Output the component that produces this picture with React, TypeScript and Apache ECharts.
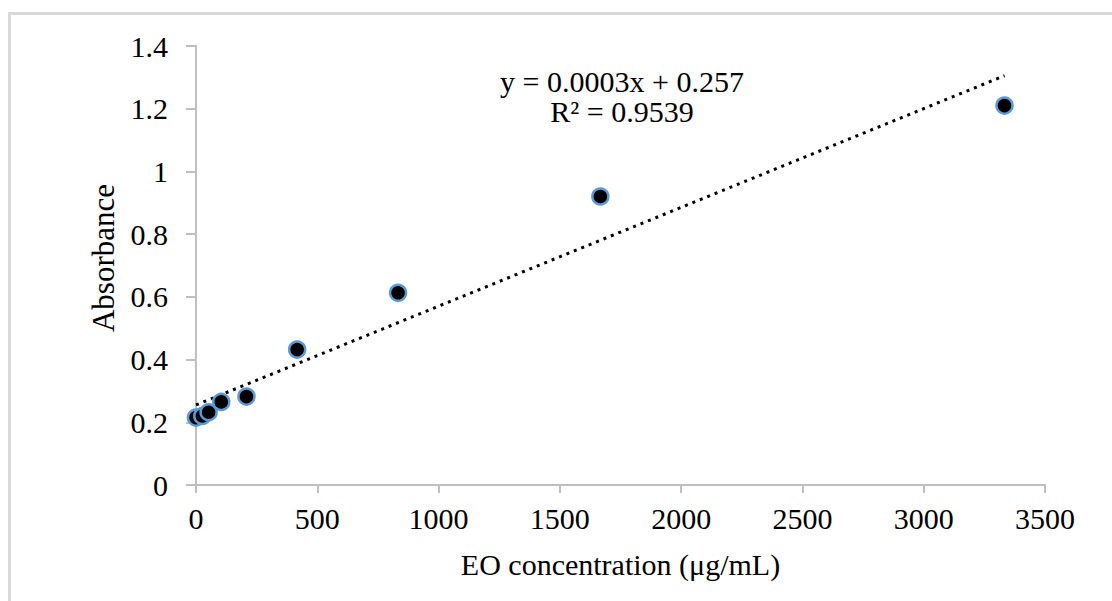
import React, { useEffect, useRef } from "react";
import * as echarts from "echarts";

const concentrations = [0, 26, 52, 104, 208, 417, 833, 1667, 3333];
const absorbance = [0.215, 0.22, 0.232, 0.265, 0.282, 0.432, 0.613, 0.92, 1.21];
const equationText = "y = 0.0003x + 0.257";
const r2Text = "R² = 0.9539";
const xTitle = "EO concentration (μg/mL)";
const yTitle = "Absorbance";

function regression(xs: number[], ys: number[]) {
  const n = xs.length;
  const mx = xs.reduce((a, b) => a + b, 0) / n;
  const my = ys.reduce((a, b) => a + b, 0) / n;
  let sxy = 0, sxx = 0;
  for (let i = 0; i < n; i++) {
    sxy += (xs[i] - mx) * (ys[i] - my);
    sxx += (xs[i] - mx) * (xs[i] - mx);
  }
  const slope = sxy / sxx;
  return { slope, intercept: my - slope * mx };
}

export default function App() {
  const ref = useRef<HTMLDivElement>(null);
  useEffect(() => {
    document.body.style.margin = "0";
    const chart = echarts.init(ref.current!, null, { renderer: "svg" });
    const { slope, intercept } = regression(concentrations, absorbance);
    const xMin = Math.min(...concentrations);
    const xMax = Math.max(...concentrations);
    const font = "'Liberation Serif', 'Times New Roman', serif";
    const axisColor = "#bfbfbf";
    chart.setOption({
      animation: false,
      backgroundColor: "#fff",
      textStyle: { fontFamily: font },
      grid: { left: 196, right: 1112 - 1045, top: 46, bottom: 601 - 485, containLabel: false },
      xAxis: {
        type: "value",
        min: 0,
        max: 3500,
        interval: 500,
        name: xTitle,
        nameLocation: "middle",
        nameGap: 64,
        nameTextStyle: { fontFamily: font, fontSize: 30, color: "#000" },
        axisLine: { show: true, lineStyle: { color: axisColor, width: 2 } },
        axisTick: { show: true, length: 8, lineStyle: { color: axisColor, width: 2 } },
        axisLabel: {
          fontFamily: font,
          fontSize: 30,
          color: "#000",
          margin: 18,
          formatter: (v: number) => String(v),
        },
        splitLine: { show: false },
      },
      yAxis: {
        type: "value",
        min: 0,
        max: 1.4,
        interval: 0.2,
        axisLine: { show: true, lineStyle: { color: axisColor, width: 2 } },
        axisTick: { show: true, length: 10, lineStyle: { color: axisColor, width: 2 } },
        axisLabel: {
          fontFamily: font,
          fontSize: 30,
          color: "#000",
          margin: 28,
          formatter: (v: number) => String(Math.round(v * 10) / 10),
        },
        splitLine: { show: false },
      },
      graphic: [
        {
          type: "rect",
          shape: { x: 9.5, y: 13.5, width: 1300, height: 800 },
          style: { fill: "none", stroke: "#d9d9d9", lineWidth: 3 },
          silent: true,
        },
        {
          type: "text",
          x: 103,
          y: 258,
          rotation: Math.PI / 2,
          style: {
            text: yTitle,
            fontFamily: font,
            fontSize: 31,
            fill: "#000",
            align: "center",
            verticalAlign: "middle",
          },
        },
        {
          type: "text",
          x: 622,
          y: 66,
          style: {
            text: equationText,
            fontFamily: font,
            fontSize: 30,
            fill: "#000",
            align: "center",
          },
        },
        {
          type: "text",
          x: 622,
          y: 96,
          style: {
            text: r2Text,
            fontFamily: font,
            fontSize: 30,
            fill: "#000",
            align: "center",
          },
        },
      ],
      series: [
        {
          type: "line",
          data: [
            [xMin, intercept + slope * xMin],
            [xMax, intercept + slope * xMax],
          ],
          showSymbol: false,
          symbol: "none",
          lineStyle: { color: "#000", width: 3, type: [3, 5], cap: "butt" },
          z: 1,
          silent: true,
        },
        {
          type: "scatter",
          data: concentrations.map((c, i) => [c, absorbance[i]]),
          symbol: "circle",
          symbolSize: 16,
          itemStyle: { color: "#000", borderColor: "#5b9bd5", borderWidth: 2.5, opacity: 1 },
          z: 3,
        },
      ],
    });
    return () => chart.dispose();
  }, []);
  return <div ref={ref} style={{ width: 1112, height: 601 }} />;
}
